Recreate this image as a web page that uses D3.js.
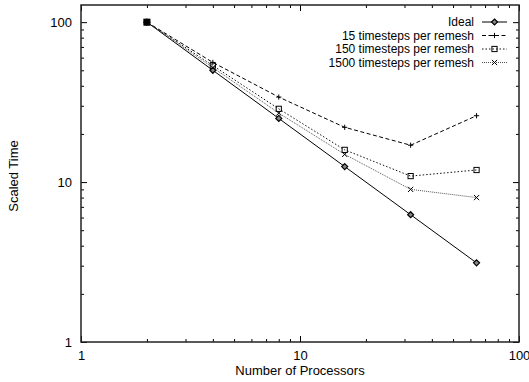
<!DOCTYPE html>
<html>
<head>
<meta charset="utf-8">
<script src="https://cdn.jsdelivr.net/npm/d3@7"></script>
<style>
  body { margin: 0; background: #fff; }
  text { font-family: "Liberation Sans", Arial, sans-serif; fill: #000; }
</style>
</head>
<body>
<svg id="chart" width="529" height="382"></svg>
<script>
const processors = [2, 4, 8, 16, 32, 64]
const ideal = [100, 50, 25, 12.5, 6.25, 3.125]
const remesh15 = [100, 56, 34, 22, 17, 26]
const remesh150 = [100, 53.5, 28.7, 15.9, 10.9, 11.9]
const remesh1500 = [100, 52, 27, 14.9, 9, 8]
const seriesNames = ['Ideal', '15 timesteps per remesh', '150 timesteps per remesh', '1500 timesteps per remesh']
const majorTicks = [1, 10, 100]
const minorTicks = [2, 3, 4, 5, 6, 7, 8, 9, 20, 30, 40, 50, 60, 70, 80, 90]

const LEFT = 81
const RIGHT = 519
const TOP = 5
const BOTTOM = 342
const MAJOR = 6
const MINOR = 3

const svg = d3.select('#chart')

const x = d3.scaleLog().domain([1, 100]).range([LEFT, RIGHT])
const y = d3.scaleLog().domain([1, 128]).range([BOTTOM, TOP])

// ticks on all four sides, pointing inward
function ticks (axis, scale, values, size, labels) {
  return axis(scale).tickValues(values).tickSize(-size).tickPadding(labels ? 9 : 0)
    .tickFormat(labels ? d3.format('d') : '')
}
const axes = [
  [d3.axisBottom, x, `translate(0,${BOTTOM})`, true],
  [d3.axisTop, x, `translate(0,${TOP})`, false],
  [d3.axisLeft, y, `translate(${LEFT},0)`, true],
  [d3.axisRight, y, `translate(${RIGHT},0)`, false]
]
axes.forEach(([axis, scale, tr, labels]) => {
  const g = svg.append('g').attr('transform', tr)
  g.call(ticks(axis, scale, majorTicks.filter(v => v <= scale.domain()[1]), MAJOR, labels))
  g.append('g').call(ticks(axis, scale, minorTicks.filter(v => v <= scale.domain()[1]), MINOR, false))
  g.selectAll('.domain').remove()
  g.selectAll('line').attr('stroke', '#000').attr('stroke-width', 1)
  g.selectAll('text').attr('font-size', 13).attr('fill', '#000')
    .style('font-family', '"Liberation Sans", Arial, sans-serif')
})

svg.append('rect')
  .attr('x', LEFT).attr('y', TOP)
  .attr('width', RIGHT - LEFT).attr('height', BOTTOM - TOP)
  .attr('fill', 'none').attr('stroke', '#222').attr('stroke-width', 1.5)

svg.append('text')
  .attr('x', (LEFT + RIGHT) / 2).attr('y', 375)
  .attr('text-anchor', 'middle').attr('font-size', 13)
  .text('Number of Processors')

svg.append('text')
  .attr('transform', 'translate(18,176) rotate(-90)')
  .attr('text-anchor', 'middle').attr('font-size', 13)
  .text('Scaled Time')

const series = [
  { name: seriesNames[0], values: ideal, dash: null, color: '#000', marker: 'diamond' },
  { name: seriesNames[1], values: remesh15, dash: '4,2.5', color: '#000', marker: 'plus' },
  { name: seriesNames[2], values: remesh150, dash: '1.5,2', color: '#111', marker: 'square' },
  { name: seriesNames[3], values: remesh1500, dash: '1,1', color: '#555', marker: 'cross' }
]

const line = d3.line().x(d => x(d[0])).y(d => y(d[1]))

function drawMarker (g, type, cx, cy) {
  const s = 2.6
  if (type === 'diamond') {
    g.append('path')
      .attr('d', `M${cx},${cy - 3}L${cx + 3},${cy}L${cx},${cy + 3}L${cx - 3},${cy}Z`)
      .attr('fill', '#888').attr('stroke', '#000').attr('stroke-width', 1.2)
  } else if (type === 'plus') {
    g.append('path')
      .attr('d', `M${cx - s},${cy}H${cx + s}M${cx},${cy - s}V${cy + s}`)
      .attr('stroke', '#000').attr('stroke-width', 1)
  } else if (type === 'square') {
    g.append('rect')
      .attr('x', cx - s).attr('y', cy - s).attr('width', 2 * s).attr('height', 2 * s)
      .attr('fill', 'none').attr('stroke', '#000').attr('stroke-width', 1)
  } else {
    g.append('path')
      .attr('d', `M${cx - s},${cy - s}L${cx + s},${cy + s}M${cx - s},${cy + s}L${cx + s},${cy - s}`)
      .attr('stroke', '#000').attr('stroke-width', 1)
  }
}

series.forEach((s, i) => {
  const pts = processors.map((p, j) => [p, s.values[j]])
  const g = svg.append('g')
  g.append('path')
    .datum(pts)
    .attr('fill', 'none')
    .attr('stroke', s.color)
    .attr('stroke-width', 1)
    .attr('stroke-dasharray', s.dash)
    .attr('d', line)
  pts.forEach(d => drawMarker(g, s.marker, x(d[0]), y(d[1])))

  // legend row
  const ly = 22 + i * 13.5
  g.append('text')
    .attr('x', 474).attr('y', ly).attr('dy', '0.35em')
    .attr('text-anchor', 'end').attr('font-size', 12)
    .text(s.name)
  g.append('line')
    .attr('x1', 482).attr('x2', 507).attr('y1', ly).attr('y2', ly)
    .attr('stroke', s.color).attr('stroke-width', 1)
    .attr('stroke-dasharray', s.dash)
  drawMarker(g, s.marker, 494.5, ly)
})

// the shared first point draws as a filled square
svg.append('rect')
  .attr('x', x(processors[0]) - 3.5).attr('y', y(ideal[0]) - 3.5)
  .attr('width', 7).attr('height', 7).attr('fill', '#000')
</script>
</body>
</html>
